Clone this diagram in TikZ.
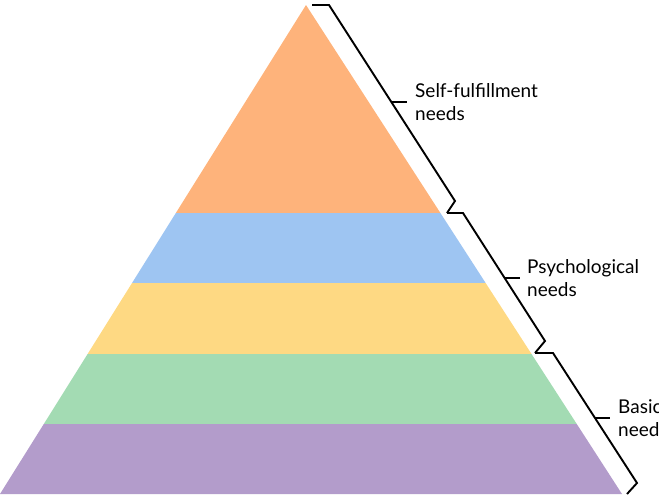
\documentclass[tikz,border=0pt]{standalone}
\usepackage{fontspec}
\setmainfont{Lato}
\usepackage{tikz}
\usetikzlibrary{positioning,calc}
\definecolor{bandorange}{HTML}{FEB37B}
\definecolor{bandblue}{HTML}{9EC5F2}
\definecolor{bandyellow}{HTML}{FED983}
\definecolor{bandgreen}{HTML}{A3DBB3}
\definecolor{bandpurple}{HTML}{B39CCB}
\begin{document}
\begin{tikzpicture}[
  x=1pt, y=-1pt,
  band/.style={draw=none},
  bracket/.style={line width=1.9pt, black, line join=miter},
  needlabel/.style={
    anchor=west, inner sep=0pt, align=left,
    font=\fontsize{19}{23.5}\selectfont,
  },
]
\clip (0,0) rectangle (659,499);

% pyramid corners
\coordinate (apex) at (306,5);
\coordinate (bl) at (0,494);
\coordinate (br) at (622,494);

% bands, top to bottom
\fill[band, bandorange] (apex) -- ($(apex)!.4254!(br)$) -- ($(apex)!.4254!(bl)$) -- cycle;
\fill[band, bandblue] ($(apex)!.4254!(bl)$) -- ($(apex)!.4254!(br)$) -- ($(apex)!.5685!(br)$) -- ($(apex)!.5685!(bl)$) -- cycle;
\fill[band, bandyellow] ($(apex)!.5685!(bl)$) -- ($(apex)!.5685!(br)$) -- ($(apex)!.7137!(br)$) -- ($(apex)!.7137!(bl)$) -- cycle;
\fill[band, bandgreen] ($(apex)!.7137!(bl)$) -- ($(apex)!.7137!(br)$) -- ($(apex)!.8569!(br)$) -- ($(apex)!.8569!(bl)$) -- cycle;
\fill[band, bandpurple] ($(apex)!.8569!(bl)$) -- ($(apex)!.8569!(br)$) -- (br) -- (bl) -- cycle;

% brackets
\coordinate (b0) at (312,5);
\coordinate (b1) at (447,213);
\coordinate (b2) at (535,353);
\coordinate (b3) at (627,494);
\draw[bracket] (b0) -- (329,5) -- (455,201) -- (b1);
\draw[bracket] (b1) -- (463,213) -- (545,341) -- (b2);
\draw[bracket] (b2) -- (553,353) -- (637,483) -- (b3);

% tips and labels
\coordinate (tipself) at (391.5,102);
\coordinate (tippsych) at (505,278);
\coordinate (tipbasic) at (595,418);
\node[needlabel, right=23.5pt of tipself] (self) {Self-fulfillment\\needs};
\node[needlabel, right=22pt of tippsych] (psych) {Psychological\\needs};
\node[needlabel, right=23pt of tipbasic] (basic) {Basic\\needs};
\draw[bracket] (tipself) -- ([xshift=-8pt]self.west);
\draw[bracket] (tippsych) -- ([xshift=-7pt]psych.west);
\draw[bracket] (tipbasic) -- ([xshift=-8pt]basic.west);

\end{tikzpicture}
\end{document}
